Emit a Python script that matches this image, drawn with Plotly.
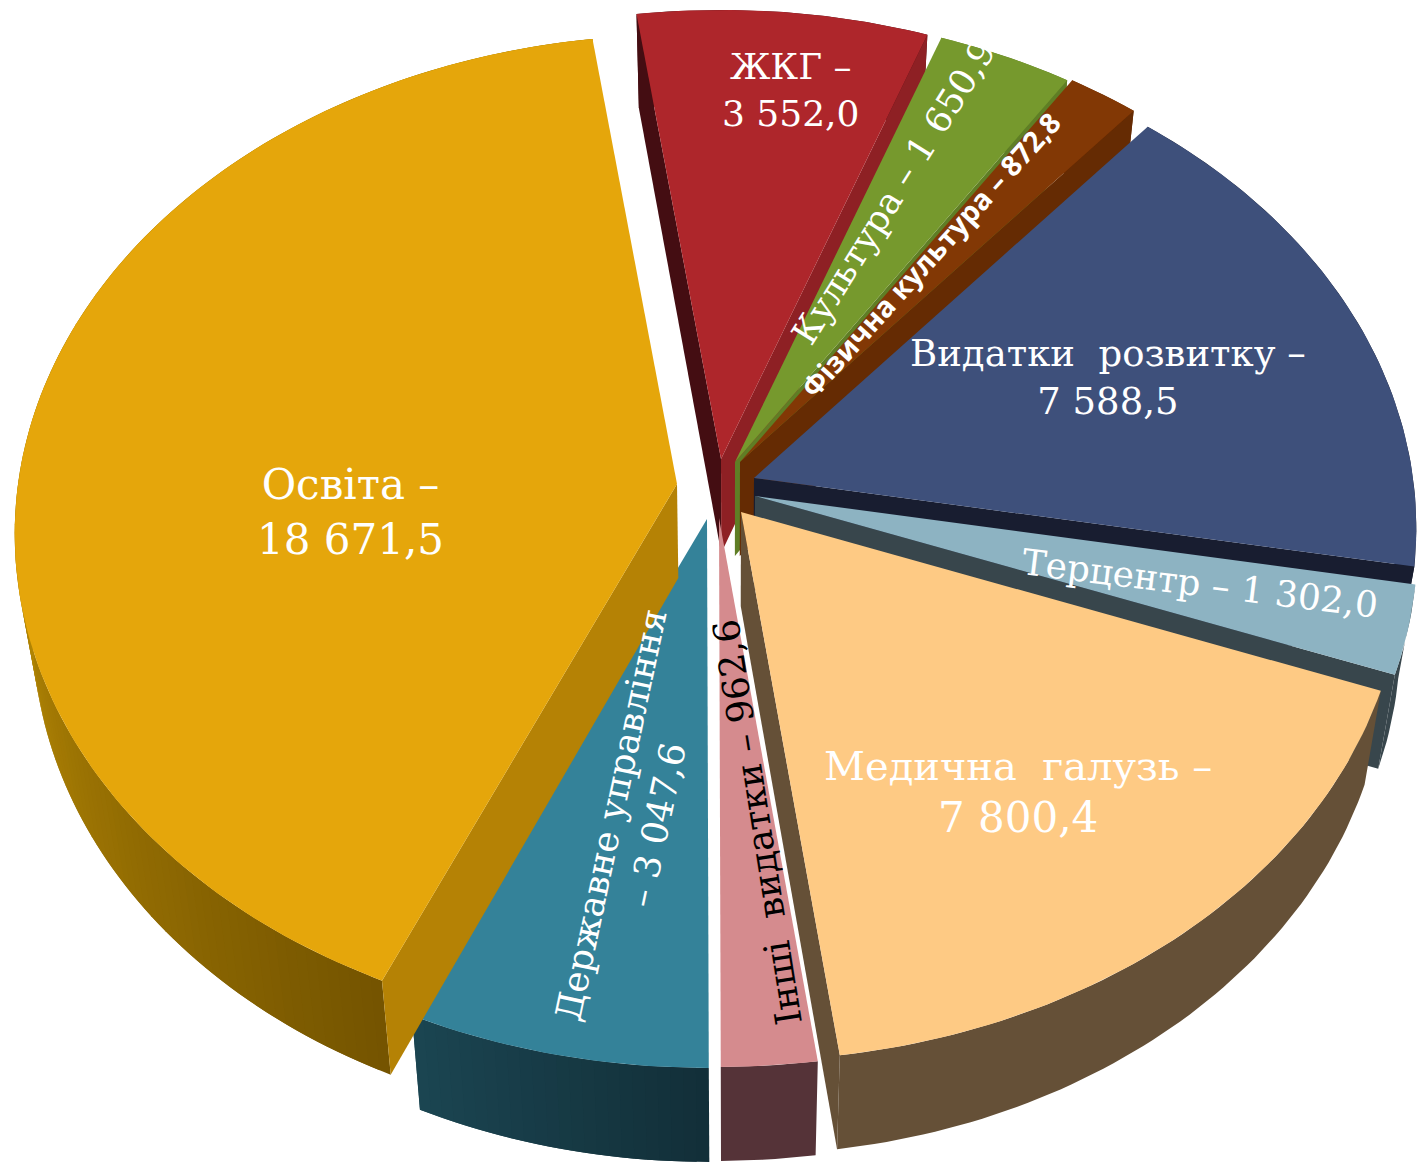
import math
import plotly.graph_objects as go

# --- data, in clockwise drawing order starting from ЖКГ ---
categories = ["ЖКГ", "Культура", "Фізична культура", "Видатки розвитку", "Терцентр",
              "Медична галузь", "Інші видатки", "Державне управління", "Освіта"]
values = [3552.0, 1650.9, 872.8, 7588.5, 1302.0, 7800.4, 962.6, 3047.6, 18671.5]

# --- style ---
top_colors = ["#AE262B", "#76992D", "#823805", "#3E507B", "#8DB3C2",
              "#FECA84", "#D58B8E", "#348299", "#E5A60B"]
start_wall = ["#440D12", "#5F7E25", "#652B03", "#181D30", "#38464C",
              "#655037", "#553338", "#1B4552", "#B58205"]
end_wall = ["#8E2024", "#5F7E25", "#652B03", "#181D30", "#38464C",
            "#655037", "#553338", "#1B4552", "#B58205"]
arc_from = ["#440D12", "#5F7E25", "#652B03", "#181D30", "#38464C",
            "#655037", "#553338", "#122F38", "#745400"]
arc_to = ["#440D12", "#5F7E25", "#652B03", "#181D30", "#38464C",
          "#655037", "#553338", "#1B4552", "#B88A05"]
arc_span = [1, 1, 1, 1, 1, 1, 1, 1, 0.42]  # share of the arc the shading takes
# exploded offset of each slice from the pie centre, in pixels
explode_x = [-9, 5, 10, 24, 25, 11, -11, -23, -53]
explode_y = [-41, -38, -38, -22, -4, 12, 18, 19, -16]

CX, CY = 730, 500
RX, RY, PERSP = 659, 494, 0.10
DEPTH, SHRINK = 94, 0.975
START_ANGLE = -8.1


def project(theta, r, i, bottom=False):
    t = math.radians(theta)
    u, v = r * math.sin(t), r * math.cos(t)
    w = 1 + PERSP * v
    x = CX + explode_x[i] + u * RX / w
    y = CY + explode_y[i] - v * RY / w
    if bottom:
        x = CX + (x - CX) * SHRINK
        y = y + DEPTH
    return x, y


def mix(a, b, f):
    ca = [int(a[k:k + 2], 16) for k in (1, 3, 5)]
    cb = [int(b[k:k + 2], 16) for k in (1, 3, 5)]
    return "rgb(%d,%d,%d)" % tuple(round(p + (q - p) * f) for p, q in zip(ca, cb))


def poly(fig, pts, color, name, value=None):
    xs = [p[0] for p in pts] + [pts[0][0]]
    ys = [p[1] for p in pts] + [pts[0][1]]
    fig.add_trace(go.Scatter(
        x=xs, y=ys, mode="lines", fill="toself", fillcolor=color,
        line=dict(color=color, width=0), name=name, showlegend=False,
        hoverinfo="text" if value is not None else "skip",
        text=None if value is None else f"{name}: {value}",
    ))


fig = go.Figure()
total = sum(values)
angle = START_ANGLE
for i, (name, val) in enumerate(zip(categories, values)):
    a0 = angle
    a1 = angle + 360 * val / total
    angle = a1
    steps = max(2, int(a1 - a0))
    arc = [a0 + (a1 - a0) * k / steps for k in range(steps + 1)]

    # outer wall: one shape if flat, overlapping strips if shaded
    if arc_from[i] == arc_to[i]:
        poly(fig, [project(t, 1, i) for t in arc] +
             [project(t, 1, i, True) for t in reversed(arc)], arc_from[i], name)
    else:
        for k in range(steps):
            seg = arc[k:k + 3]
            f = min(1.0, (k + 0.5) / steps / arc_span[i])
            poly(fig, [project(t, 1, i) for t in seg] +
                 [project(t, 1, i, True) for t in reversed(seg)],
                 mix(arc_from[i], arc_to[i], f), name)
    # radial walls facing the viewer
    for th, col in ((a0, start_wall[i]), (a1, end_wall[i])):
        s = math.sin(math.radians(th))
        if (th == a0 and s < 0) or (th == a1 and s > 0):
            poly(fig, [project(th, 0, i), project(th, 1, i),
                       project(th, 1, i, True), project(th, 0, i, True)], col, name)
    # top face
    poly(fig, [project(0, 0, i)] + [project(t, 1, i) for t in arc], top_colors[i], name, val)

SERIF = "DejaVu Serif"
labels = [
    ("Освіта –<br>18 671,5", 350, 512, 0, 42, "white", SERIF),
    ("ЖКГ –<br>3 552,0", 790, 90, 0, 36, "white", SERIF),
    ("Видатки  розвитку –<br>7 588,5", 1108, 377, 0, 37, "white", SERIF),
    ("Медична  галузь –<br><span style='font-size:42px'>7 800,4</span>", 1018, 792, 0, 40, "white", SERIF),
    ("Терцентр – 1 302,0", 1200, 583, 7, 36, "white", SERIF),
    ("Культура – 1 650,9", 893, 192, -58, 35.5, "white", SERIF),
    ("<b>Фізична культура – 872,8</b>", 930, 255, -48, 28.5, "white", "Open Sans"),
    ("Державне управління<br>– 3 047,6", 634, 820, -78, 36, "white", SERIF),
    ("Інші  видатки – 962,6", 757, 822, -99, 36.5, "black", SERIF),
]
for text, x, y, rot, size, color, family in labels:
    fig.add_annotation(x=x, y=y, text=text, textangle=rot, showarrow=False,
                       xref="x", yref="y", align="center",
                       font=dict(family=family, size=size, color=color))

fig.update_layout(
    width=1419, height=1162, margin=dict(l=0, r=0, t=0, b=0),
    paper_bgcolor="white", plot_bgcolor="white", showlegend=False,
    xaxis=dict(range=[0, 1419], visible=False, fixedrange=True),
    yaxis=dict(range=[1162, 0], visible=False, fixedrange=True),
)
fig.write_html("out.html", config={"displayModeBar": False},
               post_script="document.body.style.margin='0';document.body.style.overflow='hidden';")
